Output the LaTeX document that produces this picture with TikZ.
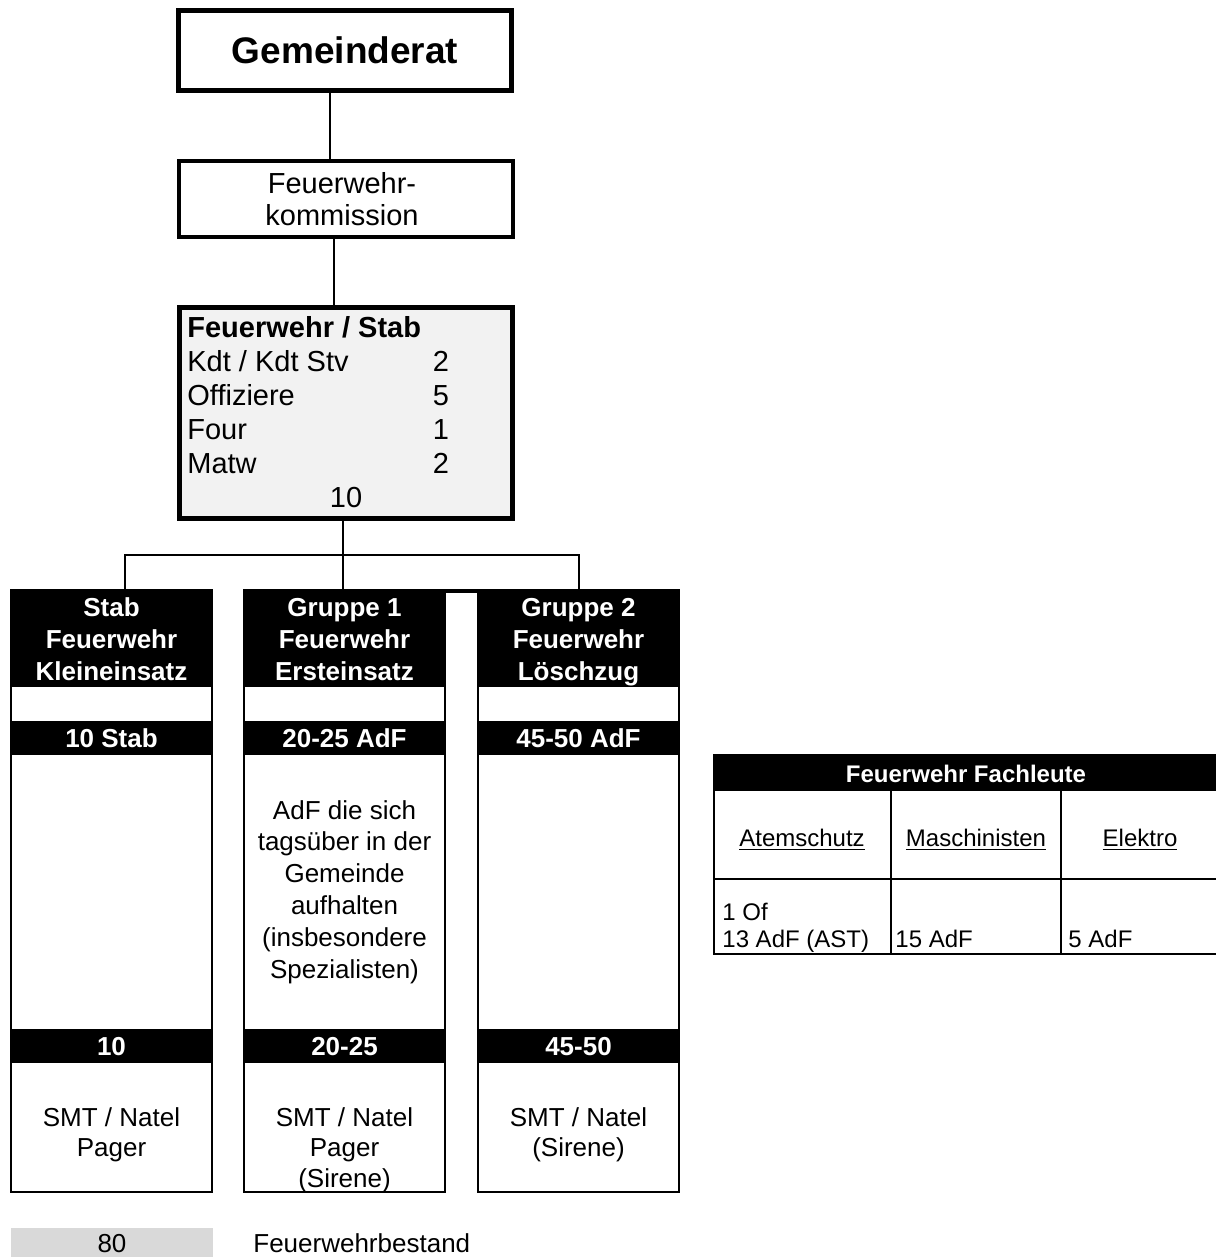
\documentclass[tikz,border=0pt]{standalone}
\usepackage{fontspec}
\setmainfont{Liberation Sans}
\definecolor{stabgray}{HTML}{F2F2F2}
\definecolor{bestgray}{HTML}{D9D9D9}
\begin{document}
\begin{tikzpicture}[x=0.5pt,y=-0.5pt,
  conn/.style={line width=1.25pt},
  frame/.style={draw, inner sep=0pt, outer sep=0pt},
  tline/.style={line width=1pt},
  txt/.style={inner sep=0pt, anchor=base, font=\fontsize{13}{15}\selectfont},
  wtxt/.style={inner sep=0pt, anchor=base, text=white, font=\bfseries\fontsize{13}{15}\selectfont},
  stxt/.style={inner sep=0pt, anchor=base west, font=\fontsize{14.5}{17}\selectfont},
  ttxt/.style={inner sep=0pt, anchor=base, font=\fontsize{12}{14}\selectfont}]
\useasboundingbox (0,0) rectangle (1215,1257);
\fill[white] (0,0) rectangle (1215,1257);

% top boxes
\node[frame, line width=2.5pt, minimum width=166.5pt, minimum height=40pt,
      font=\bfseries\fontsize{18.5}{22}\selectfont] (gr) at (345,50.5) {Gemeinderat};
\node[frame, line width=2pt, minimum width=167pt, minimum height=38pt] (kom) at (346,199) {};
\node[stxt, anchor=base] (kom1) at (342,194) {Feuerwehr-};
\node[stxt, anchor=base] (kom2) at (342,226) {kommission};
\node[frame, fill=stabgray, line width=2.5pt, minimum width=166.5pt, minimum height=105.5pt] (stab) at (346,413) {};
\node[stxt, font=\bfseries\fontsize{14.5}{17}\selectfont] (st0) at (187,337) {Feuerwehr / Stab};
\node[stxt] (st1) at (187,371) {Kdt / Kdt Stv};
\node[stxt] (st2) at (187,405) {Offiziere};
\node[stxt] (st3) at (187,439) {Four};
\node[stxt] (st4) at (187,473) {Matw};
\node[stxt, anchor=base] (sn1) at (441,371) {2};
\node[stxt, anchor=base] (sn2) at (441,405) {5};
\node[stxt, anchor=base] (sn3) at (441,439) {1};
\node[stxt, anchor=base] (sn4) at (441,473) {2};
\node[stxt, anchor=base] (sn5) at (346,507) {10};

% column fills
\foreach \xa/\xb in {10/213, 243/446, 477/680}{
  \fill[black] (\xa,589) rectangle (\xb,687);
  \fill[black] (\xa,721) rectangle (\xb,755);
  \fill[black] (\xa,1029) rectangle (\xb,1063);
}
\fill[black] (446,589) rectangle (477,592.5);

% column frames
\node[frame, line width=1pt, minimum width=100.5pt, minimum height=301pt] (c1) at (111.5,891) {};
\node[frame, line width=1pt, minimum width=100.5pt, minimum height=301pt] (c2) at (344.5,891) {};
\node[frame, line width=1pt, minimum width=100.5pt, minimum height=301pt] (c3) at (578.5,891) {};

% connectors
\draw[conn] (330,0 |- gr.south) -- (330,0 |- kom.north);
\draw[conn] (334,0 |- kom.south) -- (334,0 |- stab.north);
\coordinate (hub) at (343,555);
\draw[conn] (343,0 |- stab.south) -- (hub);
\draw[conn] (125,0 |- c1.north) |- (hub) -| (579,0 |- c3.north);
\draw[conn] (hub) -- (343,0 |- c2.north);

% column 1 texts
\foreach \t [count=\i] in {{Stab},{Feuerwehr},{Kleineinsatz}}
  \node[wtxt] (c1h\i) at (111.5,{616+32*(\i-1)}) {\t};
\node[wtxt] (c1b1) at (111.5,747) {10 Stab};
\node[wtxt] (c1b2) at (111.5,1055) {10};
\foreach \t [count=\i] in {{SMT / Natel},{Pager}}
  \node[txt] (c1f\i) at (111.5,{1126+30.5*(\i-1)}) {\t};

% column 2 texts
\foreach \t [count=\i] in {{Gruppe 1},{Feuerwehr},{Ersteinsatz}}
  \node[wtxt] (c2h\i) at (344.5,{616+32*(\i-1)}) {\t};
\node[wtxt] (c2b1) at (344.5,747) {20-25 AdF};
\foreach \t [count=\i] in {{AdF die sich},{tagsüber in der},{Gemeinde},{aufhalten},{(insbesondere},{Spezialisten)}}
  \node[txt] (c2m\i) at (344.5,{819+31.8*(\i-1)}) {\t};
\node[wtxt] (c2b2) at (344.5,1055) {20-25};
\foreach \t [count=\i] in {{SMT / Natel},{Pager},{(Sirene)}}
  \node[txt] (c2f\i) at (344.5,{1126+30.5*(\i-1)}) {\t};

% column 3 texts
\foreach \t [count=\i] in {{Gruppe 2},{Feuerwehr},{Löschzug}}
  \node[wtxt] (c3h\i) at (578.5,{616+32*(\i-1)}) {\t};
\node[wtxt] (c3b1) at (578.5,747) {45-50 AdF};
\node[wtxt] (c3b2) at (578.5,1055) {45-50};
\foreach \t [count=\i] in {{SMT / Natel},{(Sirene)}}
  \node[txt] (c3f\i) at (578.5,{1126+30.5*(\i-1)}) {\t};

% table
\fill[black] (713,754) rectangle (1230,791);
\node[frame, line width=1pt, minimum width=253pt, minimum height=99.5pt] (tab) at (967,854.5) {};
\draw[tline] (891,791) -- (891,0 |- tab.south);
\draw[tline] (1061,791) -- (1061,0 |- tab.south);
\draw[tline] (tab.west |- 0,879) -- (tab.east |- 0,879);
\node[ttxt, text=white, font=\bfseries\fontsize{12}{14}\selectfont] (th) at (966,782) {Feuerwehr Fachleute};
\node[ttxt] (ta) at (802,846) {\underline{Atemschutz}};
\node[ttxt] (tm) at (976,846) {\underline{Maschinisten}};
\node[ttxt] (te) at (1140,846) {\underline{Elektro}};
\node[ttxt, anchor=base west] (v1) at (722,920) {1 Of};
\node[ttxt, anchor=base west] (v2) at (722,947) {13 AdF (AST)};
\node[ttxt, anchor=base west] (v3) at (895,947) {15 AdF};
\node[ttxt, anchor=base west] (v4) at (1068,947) {5 AdF};

% legend
\fill[bestgray] (11,1228) rectangle (213,1265);
\node[txt] (tot) at (112,1252) {80};
\node[txt, anchor=base west] (totl) at (253,1252) {Feuerwehrbestand};
\end{tikzpicture}
\end{document}
